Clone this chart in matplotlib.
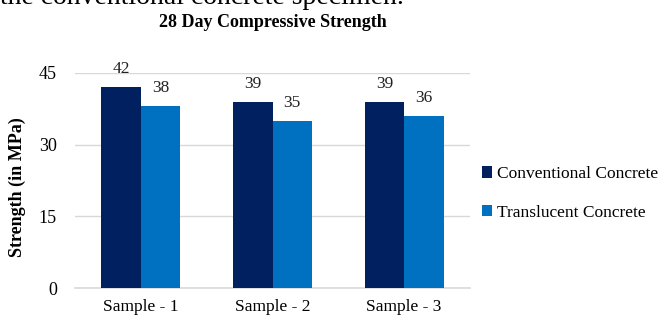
import matplotlib.pyplot as plt
import numpy as np

plt.rcParams['font.family'] = ['Liberation Serif', 'DejaVu Serif']

samples = ['Sample - 1', 'Sample - 2', 'Sample - 3']
conventional = [42, 39, 39]
translucent = [38, 35, 36]
series_names = ['Conventional Concrete', 'Translucent Concrete']
yticks = [0, 15, 30, 45]

dark = '#002060'
light = '#0070C0'

fig = plt.figure(figsize=(6.68, 3.25), dpi=100)
ax = fig.add_axes([0.1123, 0.1138, 0.5913, 0.6616])

x = np.arange(len(samples))
w = 0.3
b1 = ax.bar(x - w / 2, conventional, w, color=dark, label=series_names[0], zorder=3)
b2 = ax.bar(x + w / 2, translucent, w, color=light, label=series_names[1], zorder=3)

# value labels above each bar
for bars, vals in ((b1, conventional), (b2, translucent)):
    for r, v in zip(bars, vals):
        ax.text(r.get_x() + r.get_width() / 2, v + 2.1, str(v), ha='center', va='bottom',
                fontsize=12.5, color='#222222')

ax.set_xlim(-0.5, 2.5)
ax.set_ylim(0, 45)
ax.set_yticks(yticks)
ax.set_yticklabels([str(t) for t in yticks], fontsize=13)
ax.set_xticks(x)
ax.set_xticklabels(samples, fontsize=12.5)
ax.tick_params(length=0, pad=8)
ax.tick_params(axis='y', pad=13)
ax.grid(axis='y', color='#D9D9D9', linewidth=1, zorder=0)
for s in ['top', 'right', 'left']:
    ax.spines[s].set_visible(False)
ax.spines['bottom'].set_color('#D9D9D9')
ax.spines['bottom'].set_linewidth(1.2)

ax.set_ylabel('Strength (in MPa)', fontsize=13, fontweight='bold')
ax.yaxis.set_label_coords(-0.125, 0.47)

fig.text(0.409, 0.932, '28 Day Compressive Strength', ha='center', va='center',
         fontsize=13, fontweight='bold')
# tail of the sentence above the chart, partly off the top edge
fig.text(0.0, 1.007, 'the conventional concrete specimen.', ha='left', va='center',
         fontsize=20)

ax.legend(loc='center left', bbox_to_anchor=(0.99, 0.44), frameon=False, fontsize=12.5,
          handlelength=0.6, handleheight=0.6, handletextpad=0.3, labelspacing=1.3)

fig.savefig('out.png', dpi=100)
